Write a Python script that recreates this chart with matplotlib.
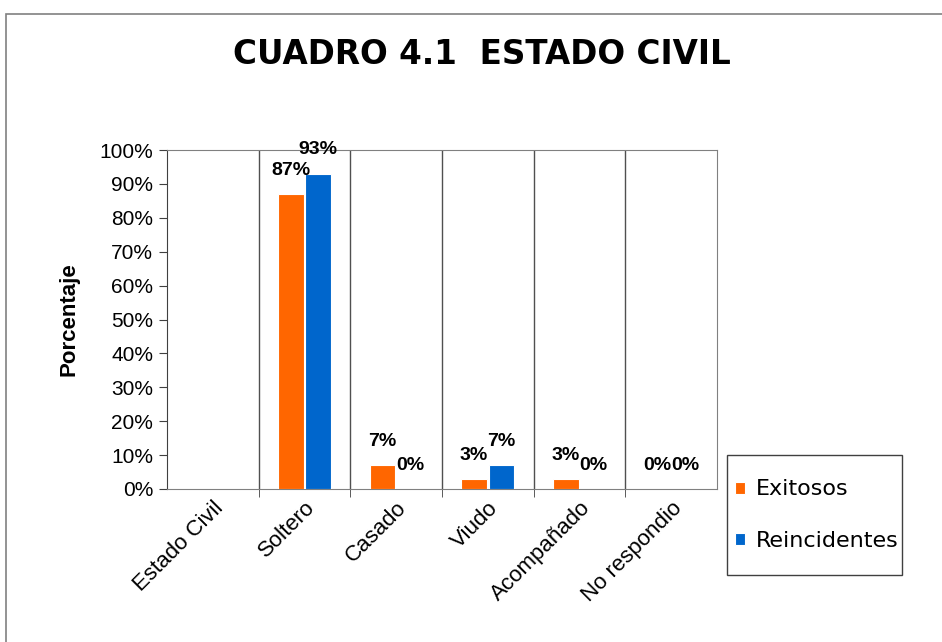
import numpy as np
import matplotlib.pyplot as plt
from matplotlib.patches import Rectangle
from matplotlib.transforms import ScaledTranslation

categories = ['Estado Civil', 'Soltero', 'Casado', 'Viudo', 'Acompañado', 'No respondio']
exitosos = [np.nan, 87, 7, 3, 3, 0]
reincidentes = [np.nan, 93, 0, 7, 0, 0]
yticks = [0, 10, 20, 30, 40, 50, 60, 70, 80, 90, 100]

orange = '#FF6600'
blue = '#0066CC'

fig = plt.figure(figsize=(9.42, 6.42), dpi=100)
fig.patches.append(Rectangle((6 / 942, -0.1), 2, 1 - 14 / 642 + 0.1,
                             transform=fig.transFigure, fill=False,
                             edgecolor='#808080', linewidth=1.2))
ax = fig.add_axes([167 / 942, 1 - 489 / 642, 550 / 942, 339 / 642])

x = np.arange(len(categories))
w = 0.28
gap = 0.01
ax.bar(x - w / 2 - gap, np.nan_to_num(exitosos), w, color=orange,
       edgecolor='white', linewidth=0.8, label='Exitosos', zorder=3)
ax.bar(x + w / 2 + gap, np.nan_to_num(reincidentes), w, color=blue,
       edgecolor='white', linewidth=0.8, label='Reincidentes', zorder=3)

for i in range(len(categories)):
    for val, off in ((exitosos[i], -w / 2 - gap), (reincidentes[i], w / 2 + gap)):
        if np.isnan(val):
            continue
        ax.annotate(f'{val:.0f}%', (x[i] + off, val), xytext=(0, 11),
                    textcoords='offset points', ha='center', va='bottom',
                    fontsize=14, fontweight='bold', family='Liberation Sans',
                    zorder=5)

ax.set_xlim(-0.5, len(categories) - 0.5)
ax.set_ylim(0, 100)
ax.set_yticks(yticks)
ax.set_yticklabels([f'{t}%' for t in yticks], fontsize=15, family='Liberation Sans')
ax.set_xticks(x)
ax.set_xticklabels(categories, rotation=45, ha='right', rotation_mode='anchor',
                   fontsize=16, family='Liberation Sans')
shift = ScaledTranslation(-7 / 100, 0, fig.dpi_scale_trans)
for lbl in ax.get_xticklabels():
    lbl.set_transform(lbl.get_transform() + shift)
ax.tick_params(axis='x', which='major', length=0, pad=6)
ax.set_xticks(x[:-1] + 0.5, minor=True)
ax.tick_params(axis='x', which='minor', length=6, color='#404040', direction='out')
ax.tick_params(axis='y', length=6, direction='out', color='#404040', pad=4)

for b in x[:-1] + 0.5:
    ax.axvline(b, color='#505050', linewidth=1.0, zorder=1)

ax.spines['left'].set_color('#404040')
ax.spines['bottom'].set_color('#808080')
ax.spines['top'].set_color('#808080')
ax.spines['right'].set_color('#808080')

ax.set_ylabel('Porcentaje', fontsize=16, fontweight='bold',
              family='Liberation Sans', labelpad=14)

fig.text(482 / 942, 1 - 55 / 642, 'CUADRO 4.1  ESTADO CIVIL', ha='center', va='center',
         fontsize=23.5, fontweight='bold', family='DejaVu Sans')

# legend box
fig.patches.append(Rectangle((727 / 942, 1 - 575 / 642), 175 / 942, 120 / 642,
                             transform=fig.transFigure, fill=False,
                             edgecolor='#404040', linewidth=1.0))
fig.legend(loc='center', bbox_to_anchor=(817 / 942, 1 - 515 / 642),
           fontsize=16, frameon=False,
           handlelength=0.45, handleheight=0.45, handletextpad=0.5,
           labelspacing=1.4, borderpad=0, borderaxespad=0)

fig.savefig('out.png', dpi=100)
